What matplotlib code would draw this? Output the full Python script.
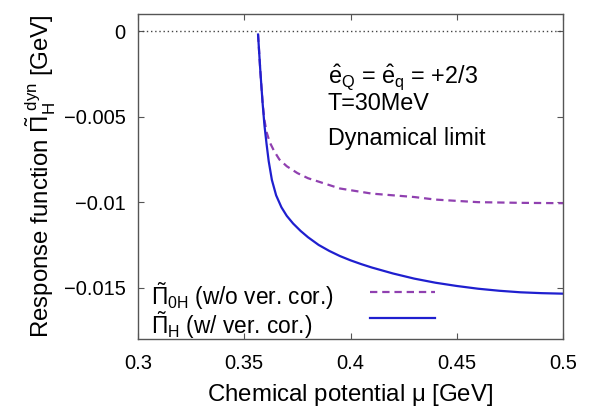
import matplotlib
matplotlib.use("Agg")
import matplotlib.pyplot as plt

plt.rcParams['font.family'] = ['Liberation Sans', 'DejaVu Sans']
plt.rcParams['mathtext.fontset'] = 'custom'
plt.rcParams['mathtext.rm'] = 'Liberation Sans'
plt.rcParams['mathtext.it'] = 'Liberation Sans:italic'
plt.rcParams['mathtext.bf'] = 'Liberation Sans:bold'

# Data
mu_with = [0.3565, 0.3570, 0.3575, 0.3580, 0.3587, 0.3595, 0.3605, 0.3615,
           0.3630, 0.3650, 0.3675, 0.3700, 0.3730, 0.3765, 0.3800, 0.3850,
           0.3900, 0.3950, 0.4000, 0.4050, 0.4100, 0.4200, 0.4300, 0.4400,
           0.4500, 0.4600, 0.4700, 0.4800, 0.4900, 0.5000]
pi_with = [-0.0002, -0.0012, -0.0022, -0.0031, -0.0043, -0.0055, -0.0066, -0.0076,
           -0.0087, -0.0096, -0.0103, -0.0108, -0.01125, -0.01168, -0.01205, -0.0125,
           -0.01285, -0.01315, -0.0134, -0.01362, -0.01382, -0.01417, -0.01447, -0.01471,
           -0.0149, -0.01506, -0.01518, -0.01527, -0.01532, -0.01535]

mu_without = [0.3565, 0.3570, 0.3575, 0.3580, 0.3587, 0.3595, 0.3605, 0.3620,
              0.3640, 0.3665, 0.3700, 0.3750, 0.3800, 0.3850, 0.3900, 0.3950,
              0.4000, 0.4100, 0.4200, 0.4300, 0.4400, 0.4600, 0.4800, 0.5000]
pi_without = [-0.0002, -0.0012, -0.0022, -0.0031, -0.0043, -0.0052, -0.0059, -0.0065,
              -0.0070, -0.0075, -0.0079, -0.0083, -0.0086, -0.0088, -0.0090, -0.0092,
              -0.0093, -0.0095, -0.0096, -0.0097, -0.00985, -0.0100, -0.01004, -0.01006]

xticks = [0.3, 0.35, 0.4, 0.45, 0.5]
xticklabels = ['0.3', '0.35', '0.4', '0.45', '0.5']
yticks = [0, -0.005, -0.01, -0.015]
yticklabels = ['0', '\u22120.005', '\u22120.01', '\u22120.015']

label_without = r'$\tilde{\Pi}_{\rm 0H}$ (w/o ver. cor.)'
label_with = r'$\tilde{\Pi}_{\rm H}$ (w/ ver. cor.)'

fig = plt.figure(figsize=(5.94, 4.08), dpi=100)
ax = fig.add_axes([138/594, 1-339/408, (563-138)/594, (339-14)/408])

c_dash = '#9040b0'
c_solid = '#1f1fcf'

ax.axhline(0, color='#444444', lw=1.0, linestyle=(0, (1, 2)))
ax.plot(mu_without, pi_without, color=c_dash, lw=1.6, linestyle=(0, (3.3, 2.2)))
ax.plot(mu_with, pi_with, color=c_solid, lw=1.6)

ax.set_xlim(0.3, 0.5)
ax.set_ylim(-0.018, 0.001)
ax.set_xticks(xticks)
ax.set_xticklabels(xticklabels)
ax.set_yticks(yticks)
ax.set_yticklabels(yticklabels)
ax.tick_params(direction='in', top=True, right=True, length=4, width=0.8,
               color='#555555', labelsize=14.5)
ax.tick_params(axis='y', pad=9)
ax.tick_params(axis='x', pad=11)
for s in ax.spines.values():
    s.set_color('#555555')
    s.set_linewidth(1.0)

ax.set_xlabel(r'Chemical potential $\mathrm{\mu}$ [GeV]', fontsize=17.3, labelpad=6)
ax.set_ylabel(r'Response function $\tilde{\Pi}_{\rm H}^{\ \rm dyn}$ [GeV]', fontsize=17.3, labelpad=4)

# annotation
tr = ax.transAxes
ax.text((328-138)/425, 1-(77-14)/325, r'$\hat{\rm e}_{\rm Q}$ = $\hat{\rm e}_{\rm q}$ = +2/3',
        transform=tr, fontsize=16.8, va='center', ha='left')
ax.text((328-138)/425, 1-(103-14)/325, 'T=30MeV', transform=tr, fontsize=16.8,
        va='center', ha='left')
ax.text((328-138)/425, 1-(138-14)/325, 'Dynamical limit', transform=tr, fontsize=16.8,
        va='center', ha='left')

# legend (text left-aligned, samples in right column)
ax.text((151-138)/425, 1-(296-14)/325, label_without, transform=tr, fontsize=16.3,
        va='center', ha='left')
ax.text((151-138)/425, 1-(325-14)/325, label_with, transform=tr, fontsize=16.3,
        va='center', ha='left')
ax.plot([(370-138)/425, (435-138)/425], [1-(292-14)/325]*2, transform=tr,
        color=c_dash, lw=1.6, linestyle=(0, (3.3, 2.2)))
ax.plot([(370-138)/425, (435-138)/425], [1-(318-14)/325]*2, transform=tr,
        color=c_solid, lw=1.6)

fig.savefig('out.png', dpi=100)
